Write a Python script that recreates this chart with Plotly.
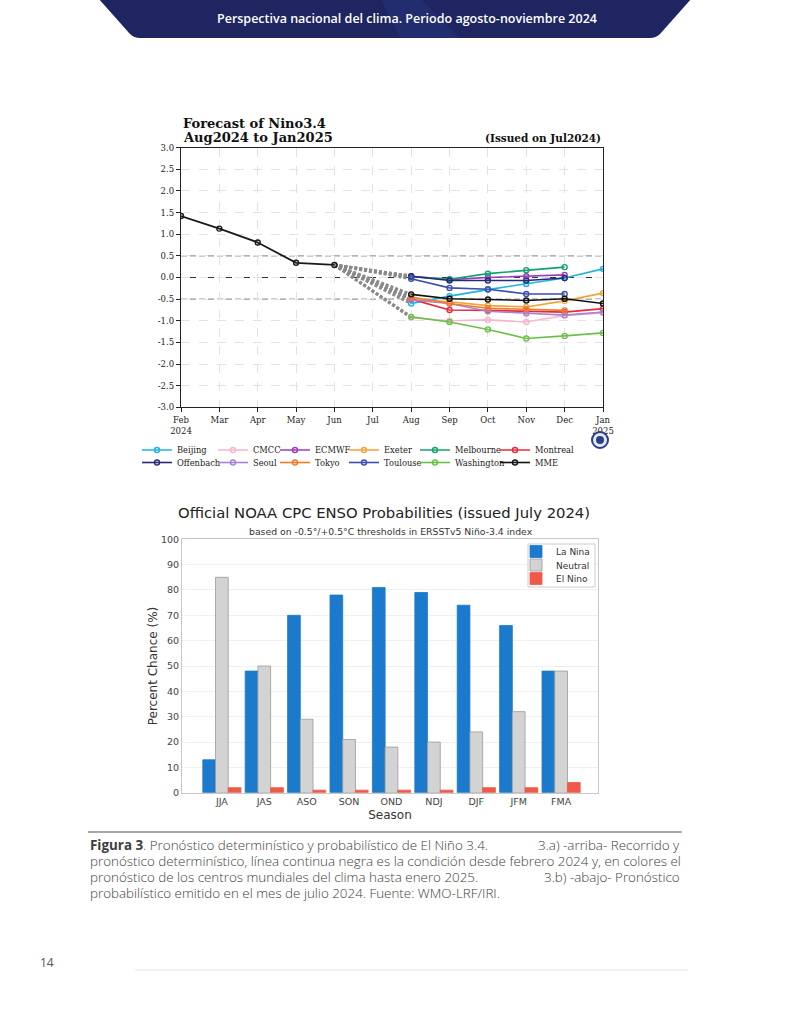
import plotly.graph_objects as go

W, H = 791, 1024


def px(x):
    return x / W


def py(y):
    return 1 - y / H


# ---------------- data: Nino3.4 forecast ----------------
month_labels = ["Feb<br>2024", "Mar", "Apr", "May", "Jun", "Jul", "Aug",
                "Sep", "Oct", "Nov", "Dec", "Jan<br>2025"]
y_tick_values = [3.0, 2.5, 2.0, 1.5, 1.0, 0.5, 0.0, -0.5, -1.0, -1.5, -2.0, -2.5, -3.0]
thresholds = [-0.5, 0.5]
observed = [1.42, 1.13, 0.81, 0.34, 0.29]          # Feb..Jun 2024
forecast_start_index = 6                            # Aug 2024

beijing = [-0.60, -0.43, -0.28, -0.15, -0.01, 0.20]
cmcc = [-0.93, -1.00, -0.98, -1.03, -0.88, -0.82]
ecmwf = [0.03, -0.05, 0.00, 0.03, 0.06]
exeter = [-0.50, -0.56, -0.65, -0.68, -0.54, -0.36]
melbourne = [0.02, -0.04, 0.09, 0.17, 0.24]
montreal = [-0.50, -0.75, -0.76, -0.78, -0.80, -0.72]
offenbach = [0.03, -0.07, -0.07, -0.07, -0.01]
seoul = [-0.52, -0.60, -0.78, -0.83, -0.87, -0.80]
tokyo = [-0.45, -0.60, -0.71, -0.74, -0.76]
toulouse = [-0.03, -0.24, -0.27, -0.38, -0.38]
washington = [-0.91, -1.03, -1.20, -1.41, -1.35, -1.28]
mme = [-0.39, -0.49, -0.51, -0.53, -0.49, -0.60]

model_names = ["Beijing", "CMCC", "ECMWF", "Exeter", "Melbourne", "Montreal",
               "Offenbach", "Seoul", "Tokyo", "Toulouse", "Washington", "MME"]
model_values = [beijing, cmcc, ecmwf, exeter, melbourne, montreal,
                offenbach, seoul, tokyo, toulouse, washington, mme]
model_colors = ["#1cb5e0", "#f7b6cb", "#9b3db8", "#f5a236", "#12a36e", "#e8283c",
                "#27297a", "#a783d3", "#f07a2c", "#3b4fb0", "#6cc04a", "#111111"]

# ---------------- data: ENSO probabilities ----------------
seasons = ["JJA", "JAS", "ASO", "SON", "OND", "NDJ", "DJF", "JFM", "FMA"]
la_nina = [13, 48, 70, 78, 81, 79, 74, 66, 48]
neutral = [85, 50, 29, 21, 18, 20, 24, 32, 48]
el_nino = [2, 2, 1, 1, 1, 1, 2, 2, 4]
bar_names = ["La Nina", "Neutral", "El Nino"]
bar_values = [la_nina, neutral, el_nino]
bar_colors = ["#1b7acb", "#d3d3d3", "#ef5a48"]
bar_edges = ["#1b7acb", "#9a9a9a", "#ef5a48"]

SERIF = "DejaVu Serif"
SANS = "DejaVu Sans"
CAP = "Open Sans"

fig = go.Figure()

# dashed connectors from last observation to the first forecast month
last_obs_x = len(observed) - 1
for vals in model_values:
    fig.add_trace(go.Scatter(
        x=[last_obs_x, forecast_start_index], y=[observed[-1], vals[0]],
        mode="lines", line=dict(color="#8a8a8a", width=3, dash="3px,2px"),
        showlegend=False, hoverinfo="skip", xaxis="x", yaxis="y"))

# legend layout for the forecast chart (matplotlib-like 6 columns x 2 rows)
legend_text_x = [179, 255, 317, 386, 457, 537]
legend_row_y = [450, 462.5]
legend_layouts = {}
for i, (name, vals, col) in enumerate(zip(model_names, model_values, model_colors)):
    key = "legend" if i == 0 else f"legend{i + 1}"
    xs = list(range(forecast_start_index, forecast_start_index + len(vals)))
    fig.add_trace(go.Scatter(
        x=xs, y=vals, name=name, mode="lines+markers",
        line=dict(color=col, width=1.6),
        marker=dict(symbol="circle-open", size=5, color=col, line=dict(width=1.4, color=col)),
        legend=key, xaxis="x", yaxis="y"))
    col_i, row_i = i % 6, i // 6
    legend_layouts[key] = dict(
        x=px(legend_text_x[col_i] - 42), y=py(legend_row_y[row_i]),
        xanchor="left", yanchor="middle", bgcolor="rgba(0,0,0,0)", borderwidth=0,
        itemwidth=30, font=dict(family=SERIF, size=8.3, color="#222"))

# observed
fig.add_trace(go.Scatter(
    x=list(range(len(observed))), y=observed, mode="lines+markers",
    line=dict(color="#1a1a1a", width=1.8),
    marker=dict(symbol="circle-open", size=5, color="#1a1a1a", line=dict(width=1.4)),
    showlegend=False, xaxis="x", yaxis="y"))

# bars
bar_legend_y = [551.5, 565, 578.5]
for j, (name, vals, col, edge) in enumerate(zip(bar_names, bar_values, bar_colors, bar_edges)):
    key = f"legend{13 + j}"
    fig.add_trace(go.Bar(x=seasons, y=vals, name=name,
                         marker=dict(color=col, line=dict(color=edge, width=0.8)),
                         xaxis="x2", yaxis="y2", legend=key))
    legend_layouts[key] = dict(
        x=px(558 - 42), y=py(bar_legend_y[j]), xanchor="left", yanchor="middle",
        bgcolor="rgba(0,0,0,0)", borderwidth=0, itemwidth=30,
        font=dict(family=SANS, size=9, color="#333"))

shapes = []
# threshold and zero lines
for t in thresholds:
    shapes.append(dict(type="line", xref="x domain", yref="y", x0=0, x1=1, y0=t, y1=t,
                       line=dict(color="#9a9a9a", width=1.1, dash="6px,3px"), layer="below"))
shapes.append(dict(type="line", xref="x domain", yref="y", x0=0, x1=1, y0=0, y1=0,
                   line=dict(color="#333333", width=1.2, dash="6px,3px"), layer="below"))

# bar-chart legend frame
shapes.append(dict(type="rect", xref="paper", yref="paper", x0=px(528), x1=px(595), y0=py(544), y1=py(587),
                   fillcolor="white", line=dict(color="#cccccc", width=1), layer="above"))

# header banner
shapes.append(dict(type="path", xref="paper", yref="paper",
                   path=f"M {px(98)},{py(-2)} L {px(130)},{py(34)} Q {px(134)},{py(38)} {px(140)},{py(38)} "
                        f"L {px(650)},{py(38)} Q {px(656)},{py(38)} {px(660)},{py(34)} L {px(692)},{py(-2)} Z",
                   fillcolor="#1e2560", line=dict(width=0)))
shapes.append(dict(type="path", xref="paper", yref="paper",
                   path=f"M {px(380)},{py(-2)} L {px(420)},{py(-2)} L {px(460)},{py(38)} L {px(400)},{py(38)} Z",
                   fillcolor="#2c3d8c", opacity=0.35, line=dict(width=0)))
# caption rule
shapes.append(dict(type="line", xref="paper", yref="paper", x0=px(88), x1=px(682), y0=py(832), y1=py(832),
                   line=dict(color="#555555", width=1)))
# footer rule
shapes.append(dict(type="line", xref="paper", yref="paper", x0=px(135), x1=px(688), y0=py(970), y1=py(970),
                   line=dict(color="#e6e6e6", width=1.2)))
# WMO emblem (simplified)
shapes.append(dict(type="circle", xref="paper", yref="paper", x0=px(592), x1=px(608), y0=py(448), y1=py(432),
                   fillcolor="#e3e8f4", line=dict(color="#2c3f86", width=2)))
shapes.append(dict(type="circle", xref="paper", yref="paper", x0=px(596), x1=px(604), y0=py(444), y1=py(436),
                   fillcolor="#2c3f86", line=dict(width=0)))


def note(text, x, y, size, family, color="#222", xanchor="center", weight=None):
    f = dict(family=family, size=size, color=color)
    if weight:
        f["weight"] = weight
    return dict(text=text, x=px(x), y=py(y), xref="paper", yref="paper", xanchor=xanchor,
                yanchor="middle", showarrow=False, font=f)


cap_size = 13.4
cap_col = "#3e3e3e"
annotations = [
    note("Perspectiva nacional del clima. Periodo agosto-noviembre 2024", 407, 18, 12.5, CAP, "white", weight=600),
    note("<b>Forecast of Nino3.4</b>", 181, 123.5, 13, SERIF, "#111", "left"),
    note("<b>Aug2024 to Jan2025</b>", 181, 137.5, 13, SERIF, "#111", "left"),
    note("<b>(Issued on Jul2024)</b>", 603, 138, 10.5, SERIF, "#111", "right"),
    note("Official NOAA CPC ENSO Probabilities (issued July 2024)", 384, 512, 14.8, SANS, "#222"),
    note("based on -0.5°/+0.5°C thresholds in ERSSTv5 Niño-3.4 index", 391, 531, 9.3, SANS, "#333"),
    note("<b>Figura 3</b>. Pronóstico determinístico y probabilístico de El Niño 3.4.", 88, 845, cap_size, CAP, cap_col, "left", 300),
    note("3.a) -arriba- Recorrido y", 682, 845, cap_size, CAP, cap_col, "right", 300),
    note("pronóstico determinístico, línea continua negra es la condición desde febrero 2024 y, en colores el",
         88, 861, cap_size, CAP, cap_col, "left", 300),
    note("pronóstico de los centros mundiales del clima hasta enero 2025.", 88, 877, cap_size, CAP, cap_col, "left", 300),
    note("3.b) -abajo- Pronóstico", 682, 877, cap_size, CAP, cap_col, "right", 300),
    note("probabilístico emitido en el mes de julio 2024. Fuente: WMO-LRF/IRI.", 88, 893, cap_size, CAP, cap_col, "left", 300),
    note("14", 47, 962, 12, CAP, "#555"),
]

fig.update_layout(
    width=W, height=H, autosize=False,
    margin=dict(l=0, r=0, t=0, b=0, pad=0),
    paper_bgcolor="white", plot_bgcolor="white",
    barmode="group", bargap=0.1, bargroupgap=0,
    shapes=shapes, annotations=annotations,
    xaxis=dict(domain=[px(181), px(603)], range=[0, 11], tickmode="array", anchor="y",
               tickvals=list(range(len(month_labels))), ticktext=month_labels,
               showgrid=True, gridcolor="#e2e2e2", griddash="dash", gridwidth=1,
               ticks="outside", ticklen=4, tickcolor="#222", showline=True, mirror=True,
               linecolor="#222", linewidth=1.3, zeroline=False, automargin=False,
               tickfont=dict(family=SERIF, size=8.5, color="#222")),
    yaxis=dict(domain=[py(407.3), py(147.7)], range=[-3, 3], tickmode="array", anchor="x",
               tickvals=y_tick_values, ticktext=[f"{v:.1f}" for v in y_tick_values],
               showgrid=True, gridcolor="#e2e2e2", griddash="dash", gridwidth=1,
               ticks="outside", ticklen=4, tickcolor="#222", showline=True, mirror=True,
               linecolor="#222", linewidth=1.3, zeroline=False, automargin=False,
               tickfont=dict(family=SERIF, size=8.5, color="#222")),
    xaxis2=dict(domain=[px(182), px(598)], range=[-0.94, 8.87], type="category", anchor="y2",
                showgrid=False, ticks="", showline=True, mirror=True, linecolor="#c8c8c8", linewidth=1,
                automargin=False,
                tickfont=dict(family=SANS, size=9.5, color="#444"),
                title=dict(text="Season", font=dict(family=SANS, size=12, color="#333"), standoff=4)),
    yaxis2=dict(domain=[py(792.7), py(539.3)], range=[0, 100], dtick=10, anchor="x2",
                showgrid=True, gridcolor="#f0f0f0", ticks="", showline=True, mirror=True,
                linecolor="#c8c8c8", linewidth=1, zeroline=False, automargin=False,
                tickfont=dict(family=SANS, size=9.5, color="#444"),
                title=dict(text="Percent Chance (%)", font=dict(family=SANS, size=12, color="#333"), standoff=0)),
    showlegend=True,
    **legend_layouts,
)

fig.write_html("out.html", config={"displayModeBar": False},
               post_script="document.body.style.margin='0px';")
